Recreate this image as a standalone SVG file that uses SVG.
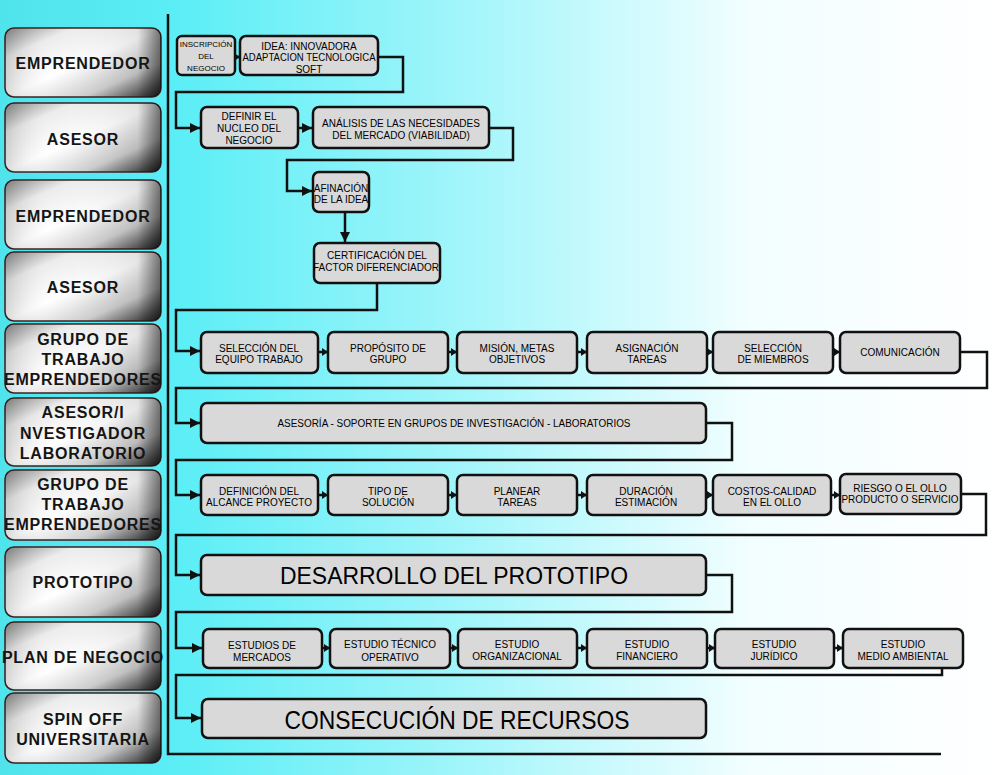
<svg xmlns="http://www.w3.org/2000/svg" width="1000" height="775" viewBox="0 0 1000 775">
<defs>
<linearGradient id="bg" x1="0" y1="0" x2="1" y2="0">
<stop offset="0" stop-color="#4fe3ec"/>
<stop offset="0.18" stop-color="#5ceef6"/>
<stop offset="0.45" stop-color="#9ef5fa"/>
<stop offset="0.75" stop-color="#f2feff"/>
<stop offset="1" stop-color="#ffffff"/>
</linearGradient>
<linearGradient id="metal" x1="0" y1="0" x2="1" y2="1">
<stop offset="0" stop-color="#8c8c8c"/>
<stop offset="0.22" stop-color="#ececec"/>
<stop offset="0.5" stop-color="#ffffff"/>
<stop offset="0.75" stop-color="#cfcfcf"/>
<stop offset="0.92" stop-color="#5a5a5a"/>
<stop offset="1" stop-color="#2a2a2a"/>
</linearGradient>
<linearGradient id="metalH" x1="0" y1="0" x2="1" y2="0">
<stop offset="0" stop-color="#000" stop-opacity="0.15"/>
<stop offset="0.3" stop-color="#fff" stop-opacity="0"/>
<stop offset="0.85" stop-color="#000" stop-opacity="0.1"/>
<stop offset="1" stop-color="#000" stop-opacity="0.55"/>
</linearGradient>
<marker id="arr" markerUnits="userSpaceOnUse" markerWidth="10" markerHeight="10" refX="10" refY="5" orient="auto">
<path d="M0,0 L10,5 L0,10 z" fill="#111"/>
</marker>
<marker id="arrs" markerUnits="userSpaceOnUse" markerWidth="6" markerHeight="8" refX="6" refY="4" orient="auto">
<path d="M0,0 L6,4 L0,8 z" fill="#111"/>
</marker>
<style>
.lab rect.b{fill:url(#metal);stroke:#3a2020;stroke-width:1.5}
.lab rect.o{fill:url(#metalH)}
.lab text{font-family:"Liberation Sans",Arial,sans-serif;font-weight:bold;font-size:16px;letter-spacing:0.8px;fill:#151515;text-anchor:middle}
.nd rect{fill:#d9d9d9;stroke:#111;stroke-width:2.5}
.nd text{font-family:"Liberation Sans",Arial,sans-serif;font-size:10px;fill:#000;text-anchor:middle}
.nd text.big{font-size:24px}
#connectors path{fill:none;stroke:#111;stroke-width:2.5}
</style>
</defs>
<rect x="0" y="0" width="1000" height="775" fill="url(#bg)"/>

<!-- left role labels -->
<g id="lab1" class="lab"><rect class="b" x="5" y="28" width="156" height="69" rx="9"/><rect class="o" x="5" y="28" width="156" height="69" rx="9"/><text x="83" y="69">EMPRENDEDOR</text></g>
<g id="lab2" class="lab"><rect class="b" x="5" y="103" width="156" height="69" rx="9"/><rect class="o" x="5" y="103" width="156" height="69" rx="9"/><text x="83" y="145">ASESOR</text></g>
<g id="lab3" class="lab"><rect class="b" x="5" y="180" width="156" height="69" rx="9"/><rect class="o" x="5" y="180" width="156" height="69" rx="9"/><text x="83" y="222">EMPRENDEDOR</text></g>
<g id="lab4" class="lab"><rect class="b" x="5" y="252" width="156" height="69" rx="9"/><rect class="o" x="5" y="252" width="156" height="69" rx="9"/><text x="83" y="293">ASESOR</text></g>
<g id="lab5" class="lab"><rect class="b" x="5" y="324" width="156" height="69" rx="9"/><rect class="o" x="5" y="324" width="156" height="69" rx="9"/><text x="83" y="345">GRUPO DE</text><text x="83" y="365">TRABAJO</text><text x="83" y="385">EMPRENDEDORES</text></g>
<g id="lab6" class="lab"><rect class="b" x="5" y="398" width="156" height="68" rx="9"/><rect class="o" x="5" y="398" width="156" height="68" rx="9"/><text x="83" y="418">ASESOR/I</text><text x="83" y="439">NVESTIGADOR</text><text x="83" y="459">LABORATORIO</text></g>
<g id="lab7" class="lab"><rect class="b" x="5" y="470" width="156" height="70" rx="9"/><rect class="o" x="5" y="470" width="156" height="70" rx="9"/><text x="83" y="490">GRUPO DE</text><text x="83" y="510">TRABAJO</text><text x="83" y="530">EMPRENDEDORES</text></g>
<g id="lab8" class="lab"><rect class="b" x="5" y="547" width="156" height="70" rx="9"/><rect class="o" x="5" y="547" width="156" height="70" rx="9"/><text x="83" y="588">PROTOTIPO</text></g>
<g id="lab9" class="lab"><rect class="b" x="5" y="622" width="156" height="68" rx="9"/><rect class="o" x="5" y="622" width="156" height="68" rx="9"/><text x="83" y="663">PLAN DE NEGOCIO</text></g>
<g id="lab10" class="lab"><rect class="b" x="5" y="693" width="156" height="70" rx="9"/><rect class="o" x="5" y="693" width="156" height="70" rx="9"/><text x="83" y="725">SPIN OFF</text><text x="83" y="745">UNIVERSITARIA</text></g>

<!-- frame lines -->
<g id="frame">
<path d="M168,14 V754 H941" fill="none" stroke="#111" stroke-width="2.5"/>
</g>

<!-- connectors -->
<g id="connectors">
<path d="M235,57 H240" marker-end="url(#arrs)"/>
<path d="M378,57 H403 V92 H176 V128 H200" marker-end="url(#arr)"/>
<path d="M298,128 H312" marker-end="url(#arr)"/>
<path d="M489,128 H513 V160 H287 V191 H312" marker-end="url(#arr)"/>
<path d="M345,212 V242" marker-end="url(#arr)"/>
<path d="M377,283 V310 H176 V351 H200" marker-end="url(#arr)"/>
<path d="M318,352 H328" marker-end="url(#arrs)"/>
<path d="M448,352 H457" marker-end="url(#arrs)"/>
<path d="M577,352 H587" marker-end="url(#arrs)"/>
<path d="M707,352 H713" marker-end="url(#arrs)"/>
<path d="M833,352 H840" marker-end="url(#arrs)"/>
<path d="M960,352 H987 V388 H176 V423 H200" marker-end="url(#arr)"/>
<path d="M706,423 H732 V460 H176 V495 H200" marker-end="url(#arr)"/>
<path d="M318,495 H328" marker-end="url(#arrs)"/>
<path d="M448,495 H457" marker-end="url(#arrs)"/>
<path d="M577,495 H587" marker-end="url(#arrs)"/>
<path d="M706,495 H713" marker-end="url(#arrs)"/>
<path d="M831,495 H840" marker-end="url(#arrs)"/>
<path d="M961,494 H986 V535 H176 V575 H200" marker-end="url(#arr)"/>
<path d="M706,575 H732 V612 H176 V648 H202" marker-end="url(#arr)"/>
<path d="M322,648 H330" marker-end="url(#arrs)"/>
<path d="M450,648 H458" marker-end="url(#arrs)"/>
<path d="M577,648 H587" marker-end="url(#arrs)"/>
<path d="M707,648 H715" marker-end="url(#arrs)"/>
<path d="M834,648 H843" marker-end="url(#arrs)"/>
<path d="M942,668 V675 H176 V718 H201" marker-end="url(#arr)"/>
</g>

<!-- nodes -->
<g id="n-inscripcion" class="nd"><rect x="177" y="36" width="58" height="39" rx="5"/><text x="206" y="47" style="font-size:8px">INSCRIPCIÓN</text><text x="206" y="59" style="font-size:8px">DEL</text><text x="206" y="71" style="font-size:8px">NEGOCIO</text></g>
<g id="n-idea" class="nd"><rect x="240" y="36" width="138" height="39" rx="6"/><text x="309" y="50">IDEA: INNOVADORA</text><text x="309" y="61" textLength="133" lengthAdjust="spacingAndGlyphs">ADAPTACION TECNOLOGICA</text><text x="309" y="73">SOFT</text></g>
<g id="n-definir" class="nd"><rect x="201" y="107" width="97" height="41" rx="6"/><text x="249" y="120">DEFINIR EL</text><text x="249" y="132">NUCLEO DEL</text><text x="249" y="144">NEGOCIO</text></g>
<g id="n-analisis" class="nd"><rect x="313" y="107" width="176" height="41" rx="6"/><text x="401" y="127">ANÁLISIS DE LAS NECESIDADES</text><text x="401" y="139">DEL MERCADO (VIABILIDAD)</text></g>
<g id="n-afinacion" class="nd"><rect x="313" y="172" width="56" height="40" rx="6"/><text x="341" y="192">AFINACIÓN</text><text x="341" y="203">DE LA IDEA</text></g>
<g id="n-certificacion" class="nd"><rect x="314" y="243" width="126" height="40" rx="6"/><text x="377" y="259">CERTIFICACIÓN DEL</text><text x="377" y="271">FACTOR DIFERENCIADOR'</text></g>

<g id="n-seleccion" class="nd"><rect x="201" y="332" width="117" height="41" rx="6"/><text x="259" y="352">SELECCIÓN DEL</text><text x="259" y="363">EQUIPO TRABAJO</text></g>
<g id="n-proposito" class="nd"><rect x="328" y="332" width="120" height="41" rx="6"/><text x="388" y="352">PROPÓSITO DE</text><text x="388" y="363">GRUPO</text></g>
<g id="n-mision" class="nd"><rect x="457" y="332" width="120" height="41" rx="6"/><text x="517" y="352">MISIÓN, METAS</text><text x="517" y="363">OBJETIVOS</text></g>
<g id="n-asignacion" class="nd"><rect x="587" y="332" width="120" height="41" rx="6"/><text x="647" y="352">ASIGNACIÓN</text><text x="647" y="363">TAREAS</text></g>
<g id="n-miembros" class="nd"><rect x="713" y="332" width="120" height="41" rx="6"/><text x="773" y="352">SELECCIÓN</text><text x="773" y="363">DE MIEMBROS</text></g>
<g id="n-comunicacion" class="nd"><rect x="840" y="332" width="120" height="41" rx="6"/><text x="900" y="356">COMUNICACIÓN</text></g>

<g id="n-asesoria" class="nd"><rect x="201" y="403" width="505" height="40" rx="6"/><text x="454" y="427" textLength="353" lengthAdjust="spacingAndGlyphs">ASESORÍA - SOPORTE EN GRUPOS DE INVESTIGACIÓN - LABORATORIOS</text></g>

<g id="n-alcance" class="nd"><rect x="201" y="475" width="117" height="40" rx="6"/><text x="259" y="495">DEFINICIÓN DEL</text><text x="259" y="506">ALCANCE PROYECTO</text></g>
<g id="n-tipo" class="nd"><rect x="328" y="475" width="120" height="40" rx="6"/><text x="388" y="495">TIPO DE</text><text x="388" y="506">SOLUCIÓN</text></g>
<g id="n-planear" class="nd"><rect x="457" y="475" width="120" height="40" rx="6"/><text x="517" y="495">PLANEAR</text><text x="517" y="506">TAREAS</text></g>
<g id="n-duracion" class="nd"><rect x="587" y="475" width="119" height="40" rx="6"/><text x="646" y="495">DURACIÓN</text><text x="646" y="506">ESTIMACIÓN</text></g>
<g id="n-costos" class="nd"><rect x="713" y="475" width="118" height="40" rx="6"/><text x="772" y="495">COSTOS-CALIDAD</text><text x="772" y="506">EN EL OLLO</text></g>
<g id="n-riesgo" class="nd"><rect x="840" y="474" width="121" height="40" rx="6"/><text x="900" y="492">RIESGO O EL OLLO</text><text x="900" y="503" textLength="117" lengthAdjust="spacingAndGlyphs">PRODUCTO O SERVICIO</text></g>

<g id="n-desarrollo" class="nd"><rect x="201" y="555" width="505" height="40" rx="6"/><text class="big" x="454" y="584" textLength="348" lengthAdjust="spacingAndGlyphs">DESARROLLO DEL PROTOTIPO</text></g>

<g id="n-mercados" class="nd"><rect x="203" y="629" width="119" height="39" rx="6"/><text x="262" y="649">ESTUDIOS DE</text><text x="262" y="661">MERCADOS</text></g>
<g id="n-tecnico" class="nd"><rect x="330" y="629" width="120" height="39" rx="6"/><text x="390" y="648">ESTUDIO TÉCNICO</text><text x="390" y="661">OPERATIVO</text></g>
<g id="n-organizacional" class="nd"><rect x="458" y="629" width="119" height="39" rx="6"/><text x="517" y="648">ESTUDIO</text><text x="517" y="660">ORGANIZACIONAL</text></g>
<g id="n-financiero" class="nd"><rect x="587" y="629" width="120" height="39" rx="6"/><text x="647" y="648">ESTUDIO</text><text x="647" y="660">FINANCIERO</text></g>
<g id="n-juridico" class="nd"><rect x="715" y="629" width="119" height="39" rx="6"/><text x="774" y="648">ESTUDIO</text><text x="774" y="660">JURÍDICO</text></g>
<g id="n-ambiental" class="nd"><rect x="843" y="629" width="120" height="39" rx="6"/><text x="903" y="648">ESTUDIO</text><text x="903" y="660">MEDIO AMBIENTAL</text></g>

<g id="n-consecucion" class="nd"><rect x="202" y="699" width="504" height="39" rx="6"/><text class="big" x="457" y="729" style="font-size:25px" textLength="345" lengthAdjust="spacingAndGlyphs">CONSECUCIÓN DE RECURSOS</text></g>
</svg>
